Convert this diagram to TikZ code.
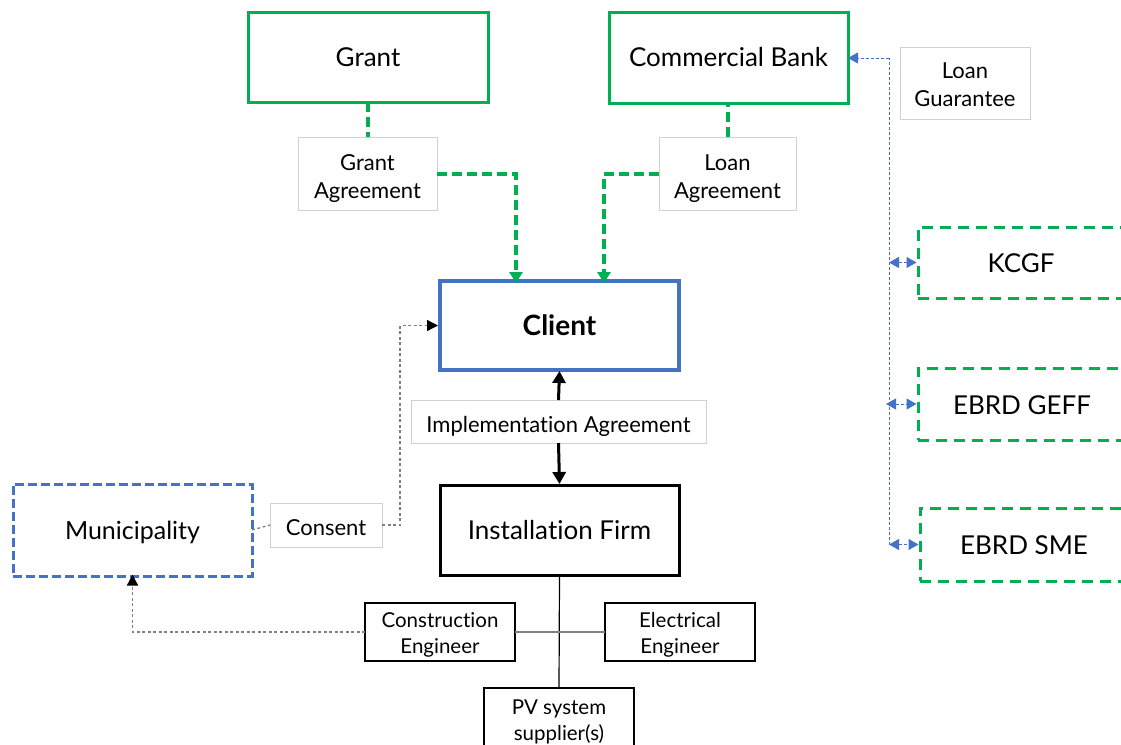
\documentclass[tikz,border=0pt]{standalone}
\usepackage{fontspec}
\setmainfont{Lato}[Ligatures=NoCommon]
\usetikzlibrary{arrows.meta}
\definecolor{gr}{HTML}{00B050}
\definecolor{bl}{HTML}{4472C4}
\definecolor{lg}{HTML}{D0D0D0}
\newcommand\lbltext[2][-5pt]{\raisebox{#1}[\height][\depth]{\begin{tabular}{@{}c@{}}#2\end{tabular}}}
\tikzset{
  box/.style={draw, inner sep=0pt, outer sep=0pt, align=center, fill=white},
  greenbox/.style={box, draw=gr, line width=3pt, font=\fontsize{26}{30}\selectfont},
  greendash/.style={box, draw=gr, line width=3pt, dash pattern=on 11pt off 7pt, font=\fontsize{26}{30}\selectfont},
  lbl/.style={box, draw=lg, line width=1pt, font=\fontsize{22}{28}\selectfont},
  sbox/.style={box, draw=black, line width=1.5pt, font=\fontsize{20.5}{26}\selectfont},
  gconn/.style={draw=gr, line width=4pt, dash pattern=on 10pt off 5pt},
  gtip/.style={-{Triangle[width=13pt,length=11pt]}},
  bline/.style={draw=bl, line width=1pt, dash pattern=on 3pt off 2pt},
  btips/.style={{Triangle[width=11pt,length=10pt]}-{Triangle[width=11pt,length=10pt]}},
  gline/.style={draw=gray, line width=1.3pt, dash pattern=on 3pt off 2.5pt},
  ktip/.style={-{Triangle[width=11pt,length=11pt,color=black,fill=black]}},
  btip/.style={-{Triangle[width=13pt,length=12pt]}},
}
\begin{document}
\begin{tikzpicture}[x=1pt,y=-1pt]
\useasboundingbox (0,0) rectangle (1121,744);
\clip (0,0) rectangle (1121,744);
% nodes
\node[greenbox, minimum width=240pt, minimum height=90pt] (grant) at (368,57) {\lbltext[-3pt]{Grant}};
\node[greenbox, minimum width=239pt, minimum height=91pt] (bank) at (728.5,57.5) {\lbltext[-3pt]{Commercial Bank}};
\node[lbl, minimum width=130pt, minimum height=72pt] (lguar) at (965,83) {\lbltext[-4pt]{Loan\\Guarantee}};
\node[lbl, minimum width=139pt, minimum height=73pt] (gagr) at (367.5,173.5) {\lbltext{Grant\\Agreement}};
\node[lbl, minimum width=137pt, minimum height=73pt] (lagr) at (727.5,173.5) {\lbltext{Loan\\Agreement}};
\node[box, draw=bl, line width=4.5pt, minimum width=239pt, minimum height=89pt, font=\fontsize{28}{32}\selectfont\bfseries] (client) at (559.5,325.5) {\lbltext[-4pt]{Client}};
\node[lbl, minimum width=295pt, minimum height=43pt] (impl) at (558.5,421.5) {\lbltext{Implementation Agreement}};
\node[box, draw=black, line width=3pt, minimum width=239pt, minimum height=90pt, font=\fontsize{26}{30}\selectfont] (firm) at (559.5,530) {\lbltext[-3pt]{Installation Firm}};
\node[box, draw=bl, line width=3pt, dash pattern=on 9pt off 4pt, minimum width=239pt, minimum height=92pt, font=\fontsize{25}{30}\selectfont] (muni) at (132.5,530) {\lbltext[-3pt]{Municipality}};
\node[lbl, minimum width=112pt, minimum height=44pt] (consent) at (326,525) {\lbltext{Consent}};
\node[greendash, minimum width=206pt, minimum height=71pt] (kcgf) at (1021,262.5) {\lbltext[-4pt]{KCGF}};
\node[greendash, minimum width=208pt, minimum height=72pt] (geff) at (1022,404) {\lbltext[-4pt]{EBRD GEFF}};
\node[greendash, minimum width=208pt, minimum height=73pt] (sme) at (1024,544.5) {\lbltext[-4pt]{EBRD SME}};
\node[sbox, minimum width=150pt, minimum height=58pt] (ceng) at (440,632) {\lbltext[-3pt]{Construction\\Engineer}};
\node[sbox, minimum width=150pt, minimum height=58pt] (eeng) at (680,632) {\lbltext[-3pt]{Electrical\\Engineer}};
\node[sbox, minimum width=150pt, minimum height=64pt] (pv) at (559,720) {\lbltext[-2pt]{PV system\\supplier(s)}};
% green connectors
\draw[gconn] (grant.south) -- (grant.south |- gagr.north);
\draw[gconn] (lagr.north) -- (lagr.north |- bank.south);
\draw[gconn, gtip] (gagr.east) -| ([xshift=-43.5pt,yshift=-2pt]client.north);
\draw[gconn, gtip] (lagr.west) -| ([xshift=44.5pt,yshift=-2pt]client.north);
% blue bus
\coordinate (bt) at (889,58);
\coordinate (bb) at (889,545);
\draw[bline] (bb) -- (bt);
\draw[bline, -{Triangle[width=11pt,length=10pt]}] (bt) -- (bank.east |- bt);
\draw[bline, btips] (kcgf.west -| bt) -- ([xshift=-1.5pt]kcgf.west);
\draw[bline, btips] ([xshift=-3pt]geff.west -| bt) -- ([xshift=-1.5pt]geff.west);
\draw[bline, btips] (sme.west -| bt) -- ([xshift=-1.5pt]sme.west);
% black implementation arrows
\draw[line width=3pt, btip] (impl.north) -- ([yshift=-1pt]client.south);
\draw[line width=3pt, btip] (impl.south) -- ([yshift=1pt]firm.north);
% consent
\draw[gline] (muni.east) -- (consent.west);
\draw[gline, ktip] (consent.east) -- ++(18,0) |- ([xshift=-2pt]client.west);
% construction engineer to municipality
\draw[gline, ktip] (ceng.west) -| ([yshift=1.5pt]muni.south);
% firm tree
\draw[line width=1.2pt] (firm.south) -- (pv.north);
\draw[draw=gray, line width=1.2pt] (ceng.east) -- (eeng.west);
\end{tikzpicture}
\end{document}
